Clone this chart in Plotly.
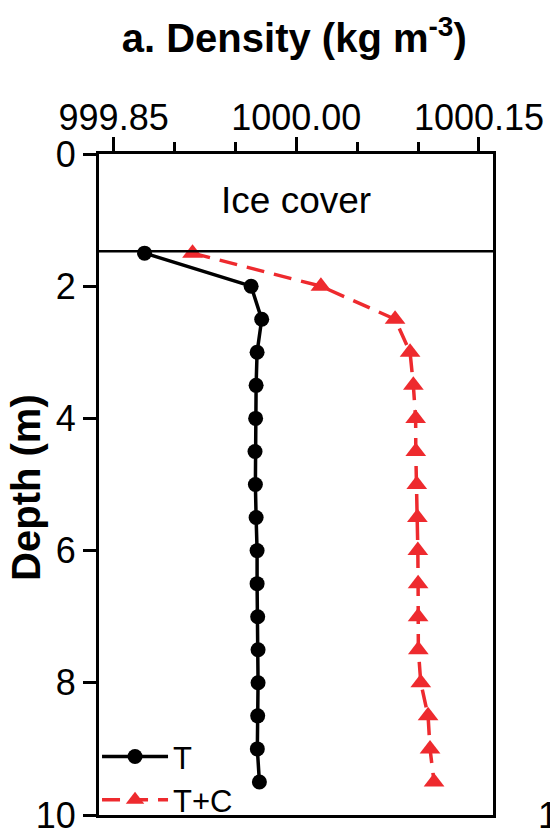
import plotly.graph_objects as go

# ---- data ----
depth = [1.5, 2.0, 2.5, 3.0, 3.5, 4.0, 4.5, 5.0, 5.5, 6.0, 6.5, 7.0, 7.5, 8.0, 8.5, 9.0, 9.5]
density_T = [999.8754, 999.9629, 999.9716, 999.9678, 999.9670, 999.9666, 999.9661, 999.9664,
             999.9670, 999.9678, 999.9678, 999.9683, 999.9686, 999.9686, 999.9683, 999.9680, 999.9697]
density_TC = [999.9148, 1000.0202, 1000.0811, 1000.0934, 1000.0961, 1000.0980, 1000.0981, 1000.0989,
              1000.0994, 1000.0998, 1000.1000, 1000.1000, 1000.1002, 1000.1022, 1000.1082, 1000.1098, 1000.1131]
series_names = ["T", "T+C"]
ice_depth = 1.47
ice_label = "Ice cover"
x_tickvals = [999.85, 1000.00, 1000.15]
x_ticktext = ["999.85", "1000.00", "1000.15"]
x_minorvals = [999.90, 999.95, 1000.05, 1000.10]
y_tickvals = [0, 2, 4, 6, 8, 10]

FONT = "Liberation Sans, Arial, Helvetica, sans-serif"
RED = "#EE2A2E"

fig = go.Figure()
fig.add_trace(go.Scatter(
    x=density_T, y=depth, name=series_names[0], mode="lines+markers",
    line=dict(color="black", width=3.5),
    marker=dict(symbol="circle", size=15, color="black"),
))
fig.add_trace(go.Scatter(
    x=density_TC, y=depth, name=series_names[1], mode="lines+markers",
    line=dict(color=RED, width=3.5, dash="18px,10px"),
    marker=dict(symbol="triangle-up", size=18, color=RED),
))

fig.add_shape(type="line", xref="paper", yref="y", x0=0, x1=1, y0=ice_depth, y1=ice_depth,
              line=dict(color="black", width=2.5))
fig.add_annotation(text=ice_label, xref="paper", yref="y", x=0.5, y=0.7, showarrow=False,
                   font=dict(family=FONT, size=37, color="black"))
fig.add_annotation(text="<b>Depth (m)</b>", xref="paper", yref="paper", x=-0.185, y=0.495,
                   textangle=-90, showarrow=False, xanchor="center", yanchor="middle",
                   font=dict(family=FONT, size=40, color="black"))
fig.add_annotation(text="10", xref="paper", yref="y", x=1.109, y=10, xanchor="left",
                   yanchor="middle", showarrow=False, font=dict(family=FONT, size=36, color="black"))

fig.update_layout(
    width=550, height=835, autosize=False,
    margin=dict(l=99, r=57, t=154, b=20, autoexpand=False),
    plot_bgcolor="white", paper_bgcolor="white",
    font=dict(family=FONT, color="black"),
    title=dict(text="<b>a. Density (kg m<sup>-3</sup>)</b>", x=0.535, xanchor="center",
               xref="container", y=0.954, yref="container", yanchor="middle",
               font=dict(family=FONT, size=40, color="black")),
    showlegend=True,
    legend=dict(x=-0.005, y=-0.018, xanchor="left", yanchor="bottom", bgcolor="rgba(0,0,0,0)",
                font=dict(family=FONT, size=31, color="black"), tracegroupgap=0,
                itemwidth=66),
    xaxis=dict(side="top", range=[999.838, 1000.1615], tickvals=x_tickvals, ticktext=x_ticktext,
               ticks="outside", ticklen=14, tickwidth=3, tickcolor="black",
               showline=True, linewidth=3, linecolor="black", mirror=True,
               showgrid=False, zeroline=False, automargin=False, ticklabelstandoff=-7,
               ticklabeloverflow="allow",
               tickfont=dict(family=FONT, size=36, color="black"),
               minor=dict(tickvals=x_minorvals, ticks="outside", ticklen=9, tickwidth=3,
                          tickcolor="black", showgrid=False)),
    yaxis=dict(range=[10, 0], tickvals=y_tickvals, ticks="outside", ticklen=13, tickwidth=3,
               tickcolor="black", showline=True, linewidth=3, linecolor="black", mirror=True,
               showgrid=False, zeroline=False, automargin=False, ticklabeloverflow="allow",
               tickfont=dict(family=FONT, size=36, color="black")),
)

fig.write_html("out.html")
